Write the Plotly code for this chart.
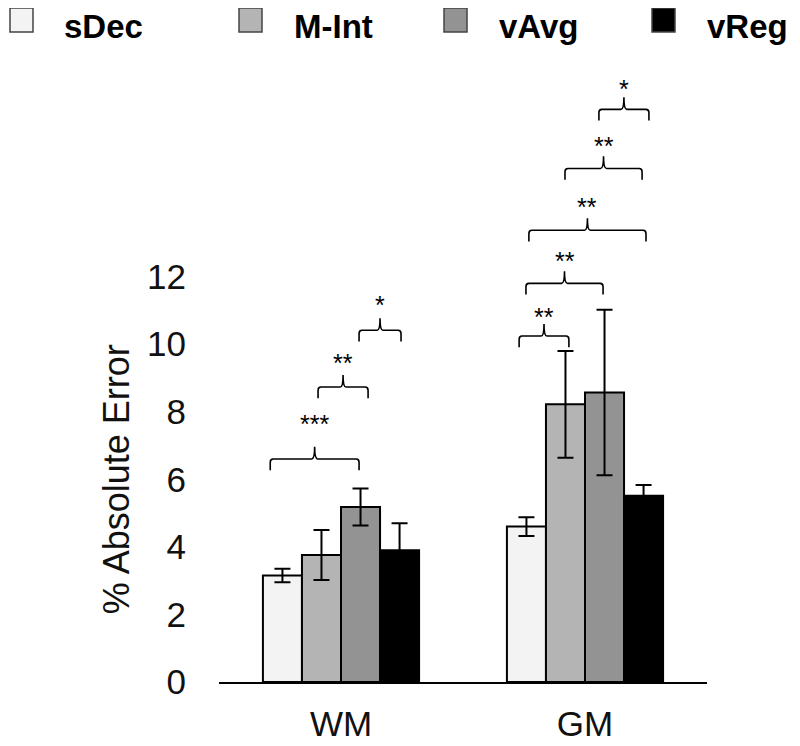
import plotly.graph_objects as go

# ---- data ----
categories = ["WM", "GM"]
cat_pos = [0, 1]
series = ["sDec", "M-Int", "vAvg", "vReg"]
colors = ["#f3f3f3", "#b4b4b4", "#939393", "#000000"]
sDec = [3.15, 4.60]
sDec_err = [0.20, 0.28]
MInt = [3.76, 8.22]
MInt_err = [0.74, 1.58]
vAvg = [5.18, 8.57]
vAvg_err = [0.55, 2.45]
vReg = [3.90, 5.51]
vReg_err = [0.80, 0.32]
values = [sDec, MInt, vAvg, vReg]
errors = [sDec_err, MInt_err, vAvg_err, vReg_err]

y_ticks = [0, 2, 4, 6, 8, 10, 12]

# significance brackets (x in axis units, y = bracket level, label level)
br_x0 = [-0.29, -0.094, 0.074, 0.73, 0.758, 0.770, 0.918, 1.057]
br_x1 = [0.074, 0.111, 0.246, 0.934, 1.074, 1.25, 1.234, 1.262]
br_y = [6.6, 8.73, 10.41, 10.24, 11.8, 13.37, 15.2, 16.95]
lbl_y = [7.84, 9.65, 11.36, 11.0, 12.66, 14.26, 16.07, 17.75]
br_lbl = ["***", "**", "*", "**", "**", "**", "**", "*"]

FONT = "Arial, Liberation Sans, sans-serif"
W, H = 800, 746
OFF = 8  # page body margin
# plot area in page pixels
PL, PT, PR, PB = 219, 57, 707, 682
PW, PH = PR - PL, PB - PT
ML, MT = PL - OFF, PT - OFF
MR, MB = W - ML - PW, H - MT - PH


def px_x(px):
    return (px - PL) / PW


def px_y(py):
    return (PB - py) / PH


fig = go.Figure()
for name, col, v, e in zip(series, colors, values, errors):
    fig.add_trace(go.Bar(
        x=cat_pos, y=v, name=name, showlegend=False,
        marker=dict(color=col, line=dict(color="black", width=2)),
        error_y=dict(type="data", array=e, visible=True, color="black",
                     thickness=2, width=8),
    ))

tick_dn = 0.33
tick_up = 0.36
c = 0.012
for x0, x1, y, ly, lbl in zip(br_x0, br_x1, br_y, lbl_y, br_lbl):
    xm = (x0 + x1) / 2
    path = (f"M {x0},{y - tick_dn} L {x0},{y - 0.1} Q {x0},{y} {x0 + c},{y} "
            f"L {xm - c},{y} Q {xm},{y} {xm},{y + tick_up} Q {xm},{y} {xm + c},{y} "
            f"L {x1 - c},{y} Q {x1},{y} {x1},{y - 0.1} L {x1},{y - tick_dn}")
    fig.add_shape(type="path", path=path, xref="x", yref="y",
                  line=dict(color="black", width=1.6))
    fig.add_annotation(x=xm, y=ly - 0.2, text=lbl, showarrow=False,
                       xref="x", yref="y", yanchor="middle",
                       font=dict(family=FONT, size=25, color="black"))

# legend drawn at the top (swatch + bold label)
leg_swatch_px = [10, 239, 444, 652]
for name, col, sx in zip(series, colors, leg_swatch_px):
    fig.add_shape(type="rect", xref="paper", yref="paper",
                  x0=px_x(sx), x1=px_x(sx + 23), y0=px_y(32), y1=px_y(8),
                  fillcolor=col, line=dict(color="#444", width=1.5))
    fig.add_annotation(xref="paper", yref="paper", x=px_x(sx + 54 if sx > 10 else 63), y=px_y(27),
                       xanchor="left", yanchor="middle", showarrow=False,
                       borderpad=0, text="<b>%s</b>" % name,
                       font=dict(family=FONT, size=33, color="black"))

# y-axis title centred on the tick range
fig.add_annotation(xref="paper", yref="y", x=px_x(116), y=6, textangle=-90,
                   text="% Absolute Error", showarrow=False,
                   xanchor="center", yanchor="middle",
                   font=dict(family=FONT, size=36, color="#111"))

fig.update_layout(
    width=W, height=H,
    margin=dict(l=ML, r=MR, t=MT, b=MB, autoexpand=False),
    paper_bgcolor="white", plot_bgcolor="white",
    barmode="group", bargap=0.36, bargroupgap=0,
    showlegend=False,
    font=dict(family=FONT, color="#111"),
    xaxis=dict(range=[-0.5, 1.5], tickvals=cat_pos, ticktext=categories,
               showline=True, linecolor="black", linewidth=2, showgrid=False,
               zeroline=False, ticks="", automargin=False, ticklabelstandoff=10,
               tickfont=dict(size=35, color="#111")),
    yaxis=dict(range=[0, 18.5], tickvals=y_ticks, showline=False, showgrid=False,
               zeroline=False, ticks="", ticklabelstandoff=32, automargin=False,
               tickfont=dict(size=35, color="#111")),
)

fig.write_html("out.html")
